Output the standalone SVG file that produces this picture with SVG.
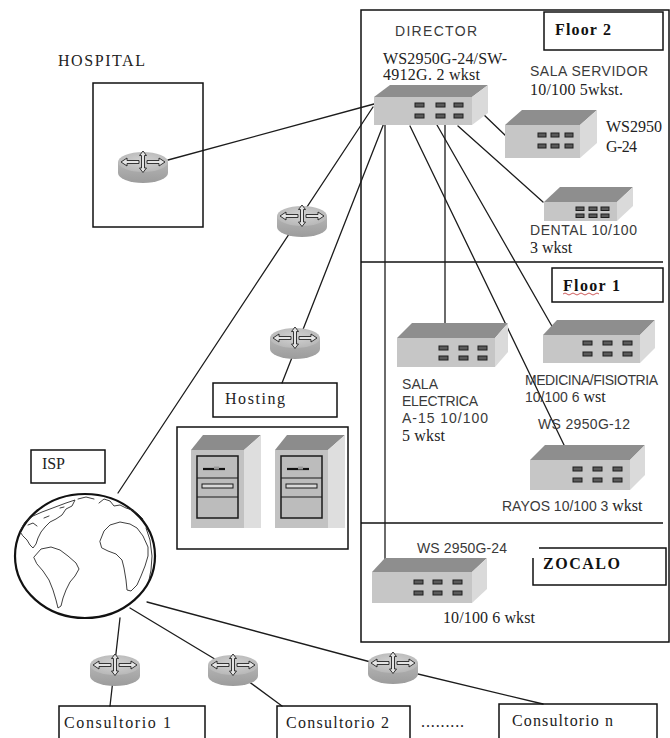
<svg xmlns="http://www.w3.org/2000/svg" width="670" height="738" viewBox="0 0 670 738">
<defs>
<style>
.box{fill:none;stroke:#111;stroke-width:1.5}
.wire{fill:none;stroke:#1c1c1c;stroke-width:1.3;stroke-linecap:round}
.sans{font-family:"Liberation Sans",Arial,sans-serif;font-size:14px;fill:#3a3a3a}
.serif{font-family:"Liberation Serif","Times New Roman",serif;font-size:16px;fill:#222}
.bold{font-weight:bold;fill:#111}
.sw-top{fill:#8e8e8e}
.sw-front{fill:#c6c6c6}
.sw-side{fill:#dadada}
.port{fill:#5a5a5a;stroke:#1e1e1e;stroke-width:1}
.arrow{fill:#e4e4e4;stroke:#222;stroke-width:0.9;stroke-linejoin:round}
.land{fill:none;stroke:#2a2a2a;stroke-width:0.9;stroke-linejoin:round;stroke-linecap:round}
.srv-top{fill:#8c8c8c}
.srv-front{fill:#c2c2c2}
.srv-side{fill:#dedede}
.panel{fill:#bcbcbc;stroke:#1a1a1a;stroke-width:1.5}
</style>
<linearGradient id="rtrSide" x1="0" x2="0" y1="0" y2="1">
<stop offset="0" stop-color="#b4b4b4"/>
<stop offset="1" stop-color="#9c9c9c"/>
</linearGradient>
<radialGradient id="rtrTop" cx="0.5" cy="0.45" r="0.6">
<stop offset="0" stop-color="#d2d2d2"/>
<stop offset="1" stop-color="#b6b6b6"/>
</radialGradient>
<!-- router: grey puck with four direction arrows -->
<g id="router">
<path d="M-25,-5 V6 A25,10 0 0 0 25,6 V-5 Z" fill="url(#rtrSide)"/>
<ellipse cx="0" cy="-5" rx="25" ry="10" fill="url(#rtrTop)"/>
<polygon class="arrow" points="-22,-5 -16,-9 -16,-6.5 -4,-6.5 -4,-3.5 -16,-3.5 -16,-1"/>
<polygon class="arrow" points="22,-5 16,-9 16,-6.5 4,-6.5 4,-3.5 16,-3.5 16,-1"/>
<polygon class="arrow" points="0,-16 3.5,-11.5 1.5,-11.5 1.5,1 3.5,1 0,5.5 -3.5,1 -1.5,1 -1.5,-11.5 -3.5,-11.5"/>
</g>
</defs>

<rect width="670" height="738" fill="#fff"/>

<!-- building outline with floors -->
<g id="building">
<rect class="box" x="361" y="10" width="308" height="632"/>
<line class="box" x1="361" y1="262" x2="663" y2="262"/>
<line class="box" x1="361" y1="523" x2="663" y2="523"/>
</g>

<!-- links -->
<g id="connectors">
<path class="wire" d="M168,160 L374,104"/>
<path class="wire" d="M118,493 L373,107"/>
<path class="wire" d="M282,383 L384,123"/>
<path class="wire" d="M385,125 V563"/>
<path class="wire" d="M445,125 V328"/>
<path class="wire" d="M410,126 L565,447"/>
<path class="wire" d="M437,125 L553,328"/>
<path class="wire" d="M458,126 L543,202"/>
<path class="wire" d="M482,113 L507,137"/>
<path class="wire" d="M120,618 L110,706"/>
<path class="wire" d="M130,608 L233,670 L282,706"/>
<path class="wire" d="M147,602 L393,668 L543,704"/>
</g>

<!-- labels for floors -->
<g id="floor2-label">
<rect class="box" x="544" y="12" width="119" height="38"/>
<text class="serif bold" x="555" y="35" font-size="16" textLength="56">Floor 2</text>
</g>
<g id="floor1-label">
<rect class="box" x="552" y="268" width="111" height="34"/>
<text class="serif bold" x="563" y="291" font-size="16" textLength="57">Floor 1</text>
<path d="M563,294 q2,-2 4,0 t4,0 t4,0 t4,0 t4,0 t4,0 t4,0 t4,0 t4,0" fill="none" stroke="#c03030" stroke-width="0.8"/>
</g>
<g id="zocalo-label">
<path class="box" d="M539,548 H666 V585 H533 V558"/>
<text class="serif bold" x="543" y="569" font-size="17" textLength="77">ZOCALO</text>
</g>

<!-- director switch -->
<g id="sw-director">
<polygon class="sw-top" points="374,97 390,85 488,85 472,97"/>
<rect class="sw-front" x="374" y="97" width="98" height="28"/>
<polygon class="sw-side" points="472,97 488,85 488,113 472,125"/>
<rect class="port" x="415" y="103" width="9" height="4"/><rect class="port" x="436" y="103" width="9" height="4"/><rect class="port" x="454" y="103" width="9" height="4"/>
<rect class="port" x="415" y="114" width="9" height="4"/><rect class="port" x="436" y="114" width="9" height="4"/><rect class="port" x="454" y="114" width="9" height="4"/>
<text class="sans" x="395" y="36" textLength="82">DIRECTOR</text>
<text class="serif" x="383" y="64" textLength="124">WS2950G-24/SW-</text>
<text class="serif" x="383" y="80" textLength="97">4912G. 2 wkst</text>
</g>

<!-- server room switch -->
<g id="sw-servidor">
<polygon class="sw-top" points="505,125 522,110 597,110 580,125"/>
<rect class="sw-front" x="505" y="125" width="75" height="33"/>
<polygon class="sw-side" points="580,125 597,110 597,143 580,158"/>
<rect class="port" x="538" y="133" width="8" height="4"/><rect class="port" x="551" y="133" width="8" height="4"/><rect class="port" x="565" y="133" width="8" height="4"/>
<rect class="port" x="538" y="144" width="8" height="4"/><rect class="port" x="551" y="144" width="8" height="4"/><rect class="port" x="565" y="144" width="8" height="4"/>
<text class="sans" x="530" y="76" textLength="118">SALA SERVIDOR</text>
<text class="serif" x="530" y="95" textLength="93">10/100 5wkst.</text>
<text class="serif" x="606" y="132" textLength="56">WS2950</text>
<text class="serif" x="606" y="152" textLength="31">G-24</text>
</g>

<!-- dental switch -->
<g id="sw-dental">
<polygon class="sw-top" points="544,202 560,187 633,187 617,202"/>
<rect class="sw-front" x="544" y="202" width="73" height="19"/>
<polygon class="sw-side" points="617,202 633,187 633,206 617,221"/>
<rect class="port" x="576" y="207" width="8" height="3.5"/><rect class="port" x="589" y="207" width="8" height="3.5"/><rect class="port" x="601" y="207" width="8" height="3.5"/>
<rect class="port" x="576" y="214" width="8" height="3.5"/><rect class="port" x="589" y="214" width="8" height="3.5"/><rect class="port" x="601" y="214" width="8" height="3.5"/>
<text class="sans" x="530" y="235" textLength="107">DENTAL  10/100</text>
<text class="serif" x="530" y="253" font-size="14">3 wkst</text>
</g>

<!-- electrical room switch -->
<g id="sw-electrica">
<polygon class="sw-top" points="397,338 412,323 508,323 495,338"/>
<rect class="sw-front" x="397" y="338" width="98" height="29"/>
<polygon class="sw-side" points="495,338 508,323 508,352 495,367"/>
<rect class="port" x="439" y="346" width="9" height="4"/><rect class="port" x="459" y="346" width="9" height="4"/><rect class="port" x="478" y="346" width="9" height="4"/>
<rect class="port" x="439" y="356" width="9" height="4"/><rect class="port" x="459" y="356" width="9" height="4"/><rect class="port" x="478" y="356" width="9" height="4"/>
<text class="sans" x="402" y="389" textLength="36">SALA</text>
<text class="sans" x="402" y="406" textLength="76">ELECTRICA</text>
<text class="sans" x="402" y="423" textLength="86">A-15  10/100</text>
<text class="serif" x="402" y="441" textLength="43">5 wkst</text>
</g>

<!-- medicine / physio switch -->
<g id="sw-medicina">
<polygon class="sw-top" points="543,335 557,320 655,320 640,335"/>
<rect class="sw-front" x="543" y="335" width="97" height="28"/>
<polygon class="sw-side" points="640,335 655,320 655,348 640,363"/>
<rect class="port" x="583" y="341" width="9" height="4"/><rect class="port" x="603" y="341" width="9" height="4"/><rect class="port" x="623" y="341" width="9" height="4"/>
<rect class="port" x="583" y="352" width="9" height="4"/><rect class="port" x="603" y="352" width="9" height="4"/><rect class="port" x="623" y="352" width="9" height="4"/>
<text class="sans" x="525" y="385" font-size="13" textLength="133">MEDICINA/FISIOTRIA</text>
<text class="sans" x="525" y="402" font-size="13">10/100  6 <tspan class="serif" font-size="14">wst</tspan></text>
</g>

<!-- x-ray switch -->
<g id="sw-rayos">
<polygon class="sw-top" points="530,460 545,445 645,445 630,460"/>
<rect class="sw-front" x="530" y="460" width="100" height="30"/>
<polygon class="sw-side" points="630,460 645,445 645,475 630,490"/>
<rect class="port" x="573" y="467" width="9" height="4"/><rect class="port" x="593" y="467" width="9" height="4"/><rect class="port" x="613" y="467" width="9" height="4"/>
<rect class="port" x="573" y="478" width="9" height="4"/><rect class="port" x="593" y="478" width="9" height="4"/><rect class="port" x="613" y="478" width="9" height="4"/>
<text class="sans" x="538" y="429" textLength="92">WS 2950G-12</text>
<text class="sans" x="502" y="511">RAYOS 10/100 3 <tspan class="serif" font-size="15">wkst</tspan></text>
</g>

<!-- ground floor switch -->
<g id="sw-zocalo">
<polygon class="sw-top" points="372,572 385,558 487,558 472,572"/>
<rect class="sw-front" x="372" y="572" width="100" height="31"/>
<polygon class="sw-side" points="472,572 487,558 487,589 472,603"/>
<rect class="port" x="414" y="580" width="9" height="4"/><rect class="port" x="433" y="580" width="9" height="4"/><rect class="port" x="453" y="580" width="9" height="4"/>
<rect class="port" x="414" y="591" width="9" height="4"/><rect class="port" x="433" y="591" width="9" height="4"/><rect class="port" x="453" y="591" width="9" height="4"/>
<text class="sans" x="417" y="553" textLength="90">WS 2950G-24</text>
<text class="serif" x="443" y="623" textLength="92">10/100 6 wkst</text>
</g>

<!-- hospital site -->
<g id="hospital">
<text class="serif" x="58" y="66" font-size="17" textLength="87">HOSPITAL</text>
<rect class="box" x="93" y="83" width="110" height="144"/>
<use href="#router" x="143" y="167"/>
</g>

<!-- WAN router on the ISP link -->
<g id="router-wan">
<use href="#router" x="302" y="221"/>
</g>

<!-- hosting -->
<g id="hosting">
<use href="#router" x="295" y="343"/>
<rect class="box" x="213" y="383" width="124" height="34"/>
<text class="serif" x="225" y="404" font-size="17" textLength="60">Hosting</text>
</g>

<g id="servers">
<rect class="box" x="177" y="427" width="171" height="122"/>
<g id="server-a">
<polygon class="srv-top" points="191,450 203,435 261,435 244,450"/>
<rect class="srv-front" x="191" y="450" width="53" height="78"/>
<polygon class="srv-side" points="244,450 261,435 261,528 244,528"/>
<rect class="panel" x="197" y="456" width="41" height="62"/>
<line x1="197" y1="478" x2="238" y2="478" stroke="#1a1a1a" stroke-width="1.2"/>
<line x1="197" y1="497" x2="238" y2="497" stroke="#1a1a1a" stroke-width="1.2"/>
<line x1="203" y1="469" x2="225" y2="469" stroke="#111" stroke-width="2.2"/>
<rect x="214" y="466.5" width="5" height="3" fill="#999"/>
<rect x="202" y="484" width="31" height="4" fill="#d8d8d8" stroke="#1a1a1a" stroke-width="1"/>
</g>
<g id="server-b">
<polygon class="srv-top" points="275,450 287,435 345,435 328,450"/>
<rect class="srv-front" x="275" y="450" width="53" height="78"/>
<polygon class="srv-side" points="328,450 345,435 345,528 328,528"/>
<rect class="panel" x="281" y="456" width="41" height="62"/>
<line x1="281" y1="478" x2="322" y2="478" stroke="#1a1a1a" stroke-width="1.2"/>
<line x1="281" y1="497" x2="322" y2="497" stroke="#1a1a1a" stroke-width="1.2"/>
<line x1="287" y1="469" x2="309" y2="469" stroke="#111" stroke-width="2.2"/>
<rect x="298" y="466.5" width="5" height="3" fill="#999"/>
<rect x="286" y="484" width="31" height="4" fill="#d8d8d8" stroke="#1a1a1a" stroke-width="1"/>
</g>
</g>

<!-- ISP cloud drawn as a globe -->
<g id="isp">
<rect class="box" x="31" y="450" width="74" height="33"/>
<text class="serif" x="42" y="469" textLength="23">ISP</text>
<ellipse cx="85" cy="556" rx="70" ry="62" fill="#fff" stroke="#111" stroke-width="2.2"/>
<path class="land" d="M20,531 L25,522 L33,516 L42,512 L50,509 L58,506 L66,503 L75,500 L72,506 L66,509 L62,515 L56,519 L50,522 L45,527 L41,532 L38,538 L36,544 L33,548 L30,545 L27,540 L23,536 Z"/>
<path class="land" d="M28,525 L33,523 L37,526 M44,518 L49,516 M60,508 L64,507"/>
<path class="land" d="M34,557 L41,549 L51,547 L60,550 L68,556 L76,563 L79,569 L75,576 L70,582 L66,590 L63,598 L61,606 L58,608 L56,600 L53,590 L49,580 L43,571 L37,564 Z"/>
<path class="land" d="M100,541 L104,531 L110,525 L120,522 L130,524 L137,528 L143,536 L148,547 L148,556 L145,566 L141,576 L137,585 L131,591 L127,590 L126,580 L124,568 L122,560 L116,554 L108,551 L102,548 Z"/>
<path class="land" d="M78,499 L86,497 L94,499 M99,503 L104,499 L110,501 L114,506 L120,505 L126,508 L132,510 L138,514 L143,519"/>
<path class="land" d="M146,528 L150,540 L152,556 L151,570 L149,580"/>
</g>

<!-- branch clinics -->
<g id="consultorio-1">
<use href="#router" x="115" y="670"/>
<rect class="box" x="59" y="706" width="146" height="36"/>
<text class="serif" x="64" y="728" textLength="107">Consultorio 1</text>
</g>
<g id="consultorio-2">
<use href="#router" x="233" y="670"/>
<rect class="box" x="277" y="706" width="133" height="36"/>
<text class="serif" x="286" y="728" textLength="103">Consultorio 2</text>
</g>
<text id="ellipsis" class="serif" x="421" y="727" font-size="10" fill="#666" textLength="43">.........</text>
<g id="consultorio-n">
<use href="#router" x="393" y="668"/>
<rect class="box" x="499" y="704" width="158" height="38"/>
<text class="serif" x="512" y="726" textLength="101">Consultorio n</text>
</g>
</svg>
